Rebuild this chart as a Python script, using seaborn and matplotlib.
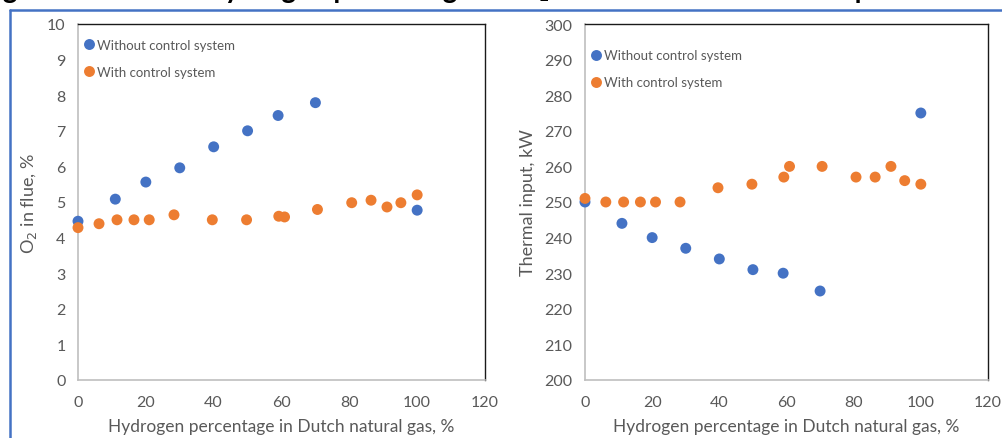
import matplotlib
matplotlib.use("Agg")
import matplotlib.pyplot as plt
from matplotlib.lines import Line2D
import seaborn as sns
import pandas as pd

# ---- data ----
h2_without = [0, 11, 20, 30, 40, 50, 59, 70, 100]
o2_without = [4.46, 5.08, 5.56, 5.96, 6.55, 7.0, 7.43, 7.79, 4.77]
thermal_without = [250, 244, 240, 237, 234, 231, 230, 225, 275]

h2_with = [0, 6.2, 11.5, 16.5, 21, 28.3, 39.6, 49.7, 59.2, 60.9, 70.6, 80.7, 86.4, 91.1, 95.2, 100]
o2_with = [4.28, 4.39, 4.5, 4.5, 4.5, 4.64, 4.5, 4.5, 4.6, 4.58, 4.79, 4.98, 5.05, 4.86, 4.98, 5.2]
thermal_with = [251, 250, 250, 250, 250, 250, 254, 255, 257, 260, 260, 257, 257, 260, 256, 255]

series_labels = ["Without control system", "With control system"]
x_label = "Hydrogen percentage in Dutch natural gas, %"
y_label_left = "O$_2$ in flue, %"
y_label_right = "Thermal input, kW"
x_ticks = [0, 20, 40, 60, 80, 100, 120]
y_ticks_left = list(range(0, 11))
y_ticks_right = list(range(200, 301, 10))
title_text = "Figure 9: Effect of hydrogen percentage on O\u2082 in flue and on thermal input of the boiler [..]"

colors = {"Without control system": "#4472C4", "With control system": "#ED7D31"}

df = pd.concat([
    pd.DataFrame({"h2": h2_without, "o2": o2_without, "thermal": thermal_without,
                  "series": series_labels[0]}),
    pd.DataFrame({"h2": h2_with, "o2": o2_with, "thermal": thermal_with,
                  "series": series_labels[1]}),
], ignore_index=True)

sns.set_theme(style="white")
plt.rcParams["font.family"] = ["Lato", "DejaVu Sans"]

W, H = 1003, 439
fig = plt.figure(figsize=(W / 100, H / 100), dpi=100)

def px_axes(x0, x1, ytop, ybot):
    return fig.add_axes([x0 / W, (H - ybot) / H, (x1 - x0) / W, (ybot - ytop) / H])

ax1 = px_axes(78, 485, 25, 381)
ax2 = px_axes(585, 988, 25, 381)

gray = "#595959"
msize = 62

for ax, ycol, yticks, ylab in [(ax1, "o2", y_ticks_left, y_label_left),
                                (ax2, "thermal", y_ticks_right, y_label_right)]:
    sns.scatterplot(data=df, x="h2", y=ycol, hue="series", palette=colors,
                    s=msize, edgecolor="none", ax=ax, clip_on=False, zorder=3)
    ax.set_xlim(0, 120)
    ax.set_ylim(yticks[0], yticks[-1])
    ax.set_xticks(x_ticks)
    ax.set_yticks(yticks)
    ax.tick_params(axis="both", length=0, labelsize=11.5, labelcolor=gray)
    ax.tick_params(axis="x", pad=11)
    ax.tick_params(axis="y", pad=9)
    ax.set_xlabel(x_label, fontsize=12.5, color=gray, labelpad=6)
    ax.set_ylabel(ylab, fontsize=13, color=gray, labelpad=6)
    for s in ["left", "bottom"]:
        ax.spines[s].set_color("#BFBFBF")
        ax.spines[s].set_linewidth(1.2)
    for s in ["top", "right"]:
        ax.spines[s].set_color("#1a1a1a")
        ax.spines[s].set_linewidth(1.0)
    ax.grid(False)

leg1 = ax1.legend(loc="upper left", bbox_to_anchor=(-0.012, 0.985), frameon=False,
                  fontsize=9.5, labelcolor=gray, handletextpad=0.1,
                  handlelength=1.0, labelspacing=1.15, borderaxespad=0.3)
leg2 = ax2.legend(loc="upper left", bbox_to_anchor=(-0.012, 0.955), frameon=False,
                  fontsize=9.5, labelcolor=gray, handletextpad=0.1,
                  handlelength=1.0, labelspacing=1.15, borderaxespad=0.3)
for leg in (leg1, leg2):
    for hnd in leg.legend_handles:
        if hasattr(hnd, "set_markersize"):
            hnd.set_markersize(msize ** 0.5)
        elif hasattr(hnd, "set_sizes"):
            hnd.set_sizes([msize])

# blue frame lines
fig.add_artist(Line2D([10 / W, 1.0], [(H - 11) / H, (H - 11) / H], color="#4472C4", lw=1.8))
fig.add_artist(Line2D([10 / W, 10 / W], [0, (H - 11) / H], color="#4472C4", lw=1.8))

# cut-off title (only the descenders are visible in the reference)
fig.text(-0.02, 1 + 2.2 / H, title_text, fontsize=20, fontweight="bold",
         color="black", ha="left", va="baseline")

fig.savefig("out.png", dpi=100)
